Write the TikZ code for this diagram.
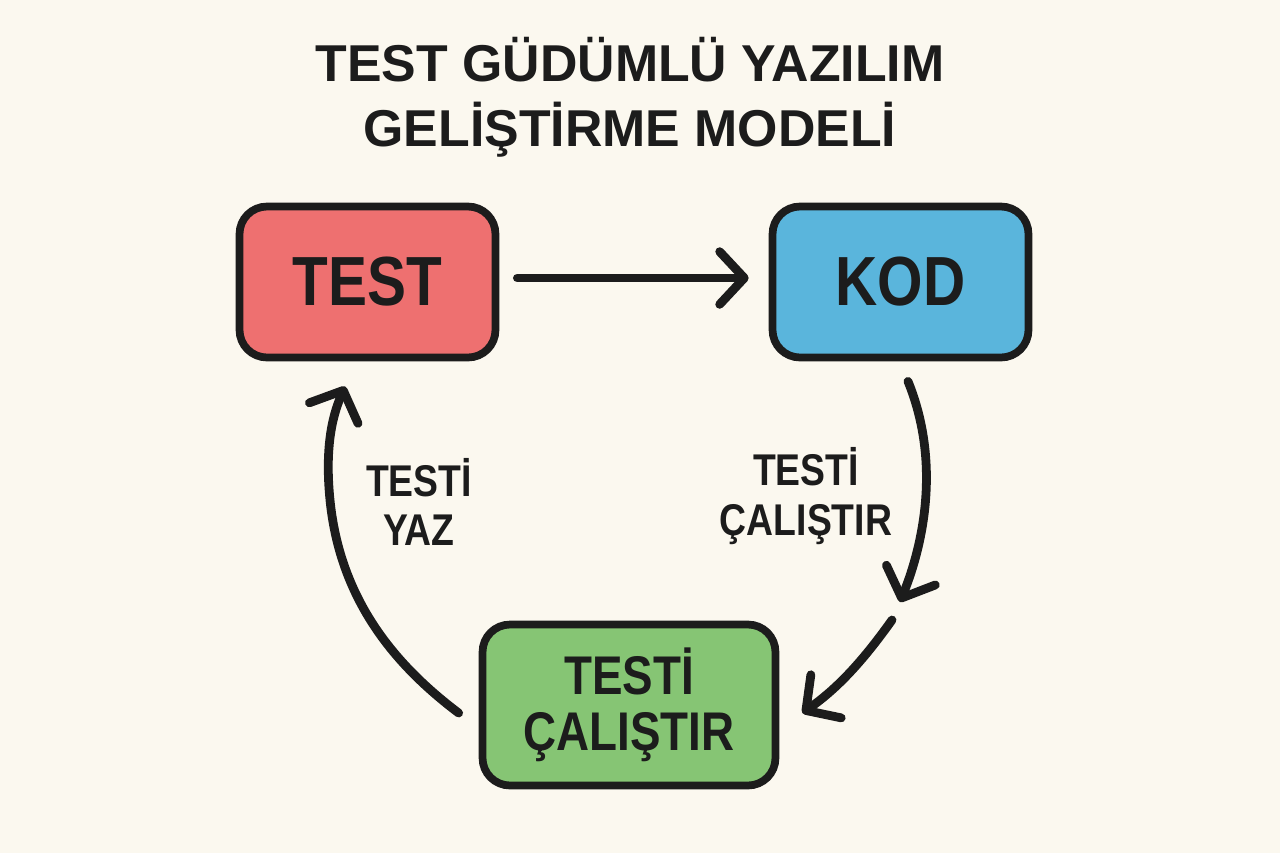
\documentclass[tikz,border=0pt]{standalone}
\usepackage{fontspec}
\setmainfont{Liberation Sans}
\newfontfamily\narrowfont{Liberation Sans}[FakeStretch=0.84]
\usetikzlibrary{arrows.meta}
\definecolor{bgcol}{HTML}{FBF8EF}
\definecolor{redbox}{HTML}{EE7070}
\definecolor{bluebox}{HTML}{5AB5DC}
\definecolor{greenbox}{HTML}{86C574}
\definecolor{ink}{HTML}{1C1C1C}
\begin{document}
\begin{tikzpicture}[x=0.02cm,y=-0.02cm,>={Straight Barb[length=14pt,width=30pt,round]},
  box/.style={rectangle,rounded corners=0.55cm,draw=ink,line width=4.4pt,minimum width=5.12cm,minimum height=3.02cm,text=ink,font=\narrowfont\bfseries\fontsize{39.6}{44}\selectfont},
  lbl/.style={align=center,text=ink,font=\narrowfont\bfseries\fontsize{25.3}{28.4}\selectfont},
  arr/.style={->,draw=ink,line width=5pt,line cap=round}]
\path[use as bounding box,fill=bgcol] (0,0) rectangle (1280,853);

\node[align=center,text=ink,font=\bfseries\fontsize{29.5}{36.9}\selectfont] (baslik) at (630,97) {TEST GÜDÜMLÜ YAZILIM\\GELİŞTİRME MODELİ};

\node[box,fill=redbox] (test) at (367.5,282) {TEST};
\node[box,fill=bluebox] (kod) at (900.5,282) {KOD};
\node[box,fill=greenbox,minimum width=5.86cm,minimum height=3.22cm,align=center,font=\narrowfont\bfseries\fontsize{31}{31.8}\selectfont] (calistir) at (629,705) {TESTİ\\ÇALIŞTIR};

\node[lbl] (yaz) at (419,502) {TESTİ\\YAZ};
\node[lbl] (calistiretiket) at (806,496) {TESTİ\\ÇALIŞTIR};

\coordinate (kirilma1) at (900,602);
\coordinate (kirilma2) at (892,620);

\draw[arr] ([shift={(18,-4)}]test.east) -- ([shift={(-20,-4)}]kod.west);
\draw[arr] ([shift={(7.5,20)}]kod.south) .. controls (940,460) and (925,540) .. (kirilma1);
\draw[arr] (kirilma2) .. controls (860,665) and (835,690) .. ([shift={(23,8)}]calistir.east);
\draw[arr] ([shift={(-20,8)}]calistir.west) .. controls (395,665) and (340,600) .. (330,500) .. controls (324,440) and (335,410) .. ([shift={(-22.5,25)}]test.south);
\end{tikzpicture}
\end{document}
